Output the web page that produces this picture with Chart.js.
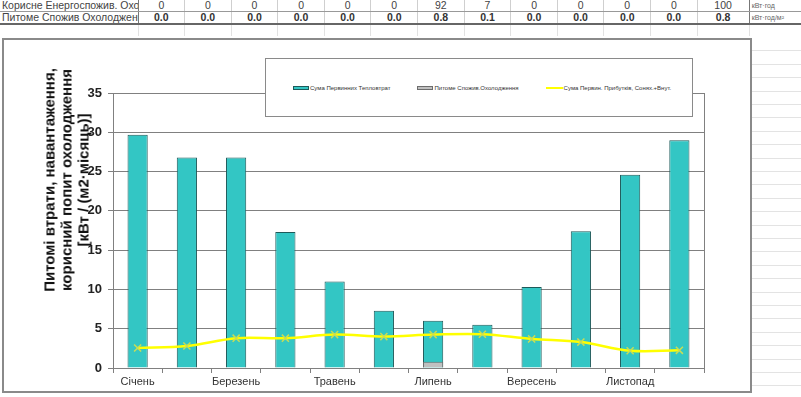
<!DOCTYPE html>
<html lang="uk">
<head>
<meta charset="utf-8">
<title>Питомі втрати, навантаження, корисний попит охолодження</title>
<script src="https://cdn.jsdelivr.net/npm/chart.js@4.4.1/dist/chart.umd.min.js"></script>
<style>
  html, body { margin: 0; padding: 0; background: #fff; }
  body { width: 801px; height: 397px; position: relative; overflow: hidden;
         font-family: "Liberation Sans", Arial, sans-serif; }

  /* ── spreadsheet rows above the chart ── */
  #sheet { position: absolute; left: 0; top: 0; width: 801px; border-collapse: collapse;
           table-layout: fixed; font-size: 10.5px; color: #444; }
  #sheet td { height: 11px; line-height: 11px; padding: 0 2px; text-align: center;
              white-space: nowrap; overflow: hidden; border-right: 1px solid #cfcfcf;
              border-bottom: 1px solid #cfcfcf; }
  #sheet td.name { text-align: left; border-right: 1px solid #777; }
  #sheet td.total { border-left: 1px solid #777; border-right: 1px solid #777; }
  #sheet td.unit { text-align: left; font-size: 7px; color: #666; border-right: none; }
  #sheet tr.r1 td { border-bottom: 1px solid #999; }
  #sheet tr.r2 td { font-weight: bold; color: #333; border-bottom: 2px solid #666; }
  #sheet tr.r2 td.name, #sheet tr.r2 td.unit { font-weight: normal; color: #444; }
  #sheet tr.r2 td.unit { color: #666; }
  #sheet tr.r3 td { border-bottom: none; border-right-color: #e2e2e2; }

  #frame { position: absolute; left: 2px; top: 38px; width: 750px; height: 355px;
           box-sizing: border-box; border: 2px solid #8a8a8a; background: #fff; }
  #cells { position: absolute; left: 752px; top: 38px; width: 49px; height: 359px;
           background: repeating-linear-gradient(to bottom, transparent 0 12.4px, #e3e3e3 12.4px 13.4px); }

  #wrap { position: absolute; left: 0; top: 0; width: 801px; height: 397px; }

  #ytitle { position: absolute; left: 66px; top: 180px; width: 260px;
            transform: translate(-50%, -50%) rotate(-90deg);
            text-align: center; font-weight: bold; font-size: 15px; line-height: 17px; color: #111; }

  #legend { position: absolute; left: 265px; top: 58px; width: 428px; height: 59px;
            box-sizing: border-box; border: 1.5px solid #8a8a8a; background: #fff;
            display: flex; align-items: center; gap: 27px; padding-left: 27px;
            font-size: 6px; color: #333; z-index: 2; }
  #legend .item { display: flex; align-items: center; white-space: nowrap; }
  #legend .swatch { width: 16px; height: 4px; margin-right: 1px; box-sizing: border-box; }
  #legend .stroke { width: 17px; height: 2px; margin-right: 1px; }
</style>
</head>
<body>

<table id="sheet"></table>
<div id="frame"></div>
<div id="cells"></div>
<div id="wrap"><canvas id="chart" width="801" height="397"></canvas></div>
<div id="ytitle">Питомі втрати, навантаження,<br>корисний попит охолодження<br>[кВт / (м2·місяць)]</div>
<div id="legend"></div>

<script>
// ── Data ─────────────────────────────────────────────────────────
const months = ['Січень', 'Лютий', 'Березень', 'Квітень', 'Травень', 'Червень',
                'Липень', 'Серпень', 'Вересень', 'Жовтень', 'Листопад', 'Грудень'];

// Сума первинних тепловтрат, кВт/(м2·місяць)
const heatLosses  = [29.7, 26.8, 26.8, 17.3, 11.0, 7.3, 6.0, 5.5, 10.3, 17.4, 24.6, 29.0];
// Питоме споживання охолодження, кВт·год/м²
const coolingUse  = [0.0, 0.0, 0.0, 0.0, 0.0, 0.0, 0.8, 0.1, 0.0, 0.0, 0.0, 0.0];
// Сума первинних прибутків, сонячних + внутрішніх
const heatGains   = [2.55, 2.8, 3.8, 3.8, 4.25, 4.0, 4.25, 4.3, 3.7, 3.3, 2.2, 2.25];

// Корисне енергоспоживання охолодження, кВт·год
const coolingEnergy = [0, 0, 0, 0, 0, 0, 92, 7, 0, 0, 0, 0];
const coolingEnergyTotal = 100;
const coolingUseTotal = 0.8;

const yTicksMax = 35;
const yTicksStep = 5;

// ── Spreadsheet rows ─────────────────────────────────────────────
(function buildSheet() {
  const t = document.getElementById('sheet');
  let cols = '<colgroup><col style="width:138px">';
  for (let i = 0; i < months.length; i++) cols += '<col style="width:46.6px">';
  cols += '<col style="width:52px"><col></colgroup>';

  const row = (cls, name, vals, total, unit) =>
    `<tr class="${cls}"><td class="name">${name}</td>` +
    vals.map(v => `<td>${v}</td>`).join('') +
    `<td class="total">${total}</td><td class="unit">${unit}</td></tr>`;

  t.innerHTML = cols +
    row('r1', 'Корисне Енергоспожив. Охолодження', coolingEnergy, coolingEnergyTotal, 'кВт·год') +
    row('r2', 'Питоме Спожив Охолодження', coolingUse.map(v => v.toFixed(1)), coolingUseTotal.toFixed(1), 'кВт·год/м²') +
    row('r3', '', months.map(() => ''), '', '');
})();

// ── Plot area frame (right edge of the box) ──────────────────────
const plotBorder = {
  id: 'plotBorder',
  beforeDatasetsDraw(chart) {
    const { ctx, chartArea: a } = chart;
    ctx.save();
    ctx.strokeStyle = '#808080';
    ctx.lineWidth = 1;
    ctx.beginPath();
    ctx.moveTo(Math.round(a.right) + 0.5, a.top);
    ctx.lineTo(Math.round(a.right) + 0.5, a.bottom);
    ctx.stroke();
    ctx.restore();
  },
};

// ── Chart ────────────────────────────────────────────────────────
const chart = new Chart(document.getElementById('chart'), {
  type: 'bar',
  data: {
    labels: months,
    datasets: [
      {
        type: 'line', label: 'Сума Первин. Прибутків, Сонях.+Внут.', data: heatGains, order: 0,
        borderColor: '#ffff00', borderWidth: 2.5, tension: 0.35, fill: false,
        pointStyle: 'crossRot', pointRadius: 5, pointBorderColor: '#c9dd55', pointBorderWidth: 1.5,
        pointBackgroundColor: '#c9dd55',
      },
      {
        label: 'Питоме Спожив.Охолодження', data: coolingUse, order: 1, grouped: false,
        backgroundColor: '#c0c0c0', borderColor: '#6d6d6d', borderWidth: 1,
        barPercentage: 0.41, categoryPercentage: 1.0,
      },
      {
        label: 'Сума Первинних Тепловтрат', data: heatLosses, order: 2, grouped: false,
        backgroundColor: '#33c6c4', borderColor: '#1d5a5a', borderWidth: 1,
        barPercentage: 0.41, categoryPercentage: 1.0,
      },
    ],
  },
  options: {
    responsive: false,
    animation: false,
    layout: { padding: { left: 0, top: 93, right: 97, bottom: 0 } },
    plugins: { legend: { display: false }, tooltip: { enabled: false } },
    scales: {
      x: {
        offset: true,
        afterFit: (scale) => { scale.height = 29; },
        grid: { offset: true, drawOnChartArea: false, drawTicks: true, tickLength: 5, color: '#808080' },
        border: { color: '#808080' },
        ticks: {
          autoSkip: false, maxRotation: 0, padding: 2, color: '#333',
          font: { family: '"Liberation Sans", Arial, sans-serif', size: 11 },
          callback: (v, i) => (i % 2 === 0 ? months[i] : ''),
        },
      },
      y: {
        min: 0, max: yTicksMax,
        afterFit: (scale) => { scale.width = 113; },
        grid: { color: '#808080', tickLength: 5 },
        border: { color: '#808080' },
        ticks: {
          stepSize: yTicksStep, padding: 6, color: '#222',
          font: { family: '"Liberation Sans", Arial, sans-serif', size: 13, weight: 'bold' },
        },
      },
    },
  },
  plugins: [plotBorder],
});

// ── HTML legend built from the datasets ──────────────────────────
(function buildLegend() {
  const box = document.getElementById('legend');
  const ds = chart.data.datasets;
  [ds[2], ds[1], ds[0]].forEach(d => {
    const item = document.createElement('div');
    item.className = 'item';
    const mark = document.createElement('span');
    if (d.type === 'line') {
      mark.className = 'stroke';
      mark.style.background = d.borderColor;
    } else {
      mark.className = 'swatch';
      mark.style.background = d.backgroundColor;
      mark.style.border = '0.5px solid ' + d.borderColor;
    }
    item.appendChild(mark);
    item.appendChild(document.createTextNode(d.label));
    box.appendChild(item);
  });
})();
</script>
</body>
</html>
